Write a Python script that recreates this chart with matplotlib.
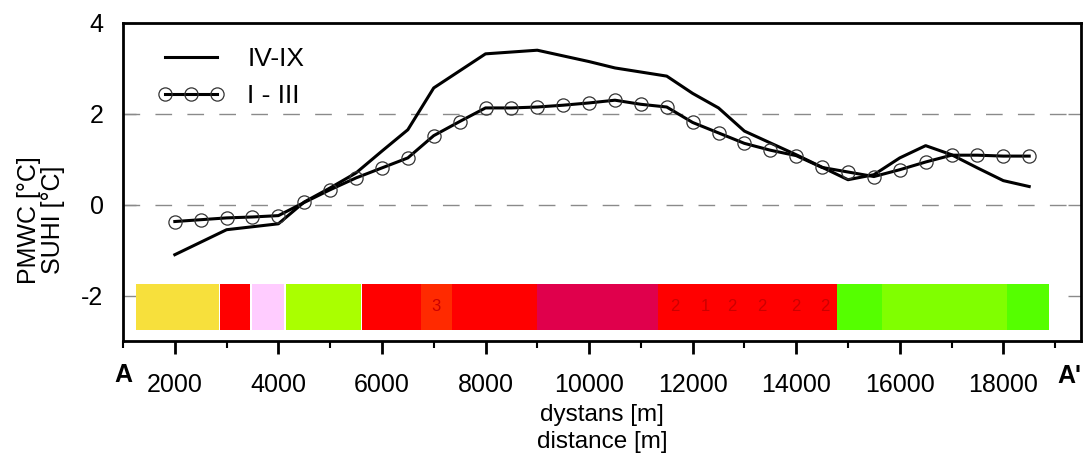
import matplotlib.pyplot as plt
import numpy as np

plt.rcParams['font.family'] = ['Liberation Sans', 'DejaVu Sans']
plt.rcParams['axes.unicode_minus'] = False

# IV-IX profile (solid line)
dist_summer = [2000, 3000, 4000, 4500, 5000, 5500, 6000, 6500, 7000, 8000, 9000, 10000,
               10500, 11500, 12000, 12500, 13000, 14000, 15000, 15500, 16000, 16500,
               17000, 17500, 18000, 18500]
suhi_summer = [-1.10, -0.55, -0.42, 0.06, 0.37, 0.70, 1.18, 1.65, 2.57, 3.32, 3.40, 3.15,
               3.01, 2.83, 2.45, 2.13, 1.62, 1.10, 0.55, 0.66, 1.03, 1.30,
               1.10, 0.81, 0.53, 0.40]

# I-III profile (line with circles, every 500 m)
dist_winter = list(range(2000, 18501, 500))
suhi_winter = [-0.37, -0.33, -0.29, -0.27, -0.24, 0.05, 0.33, 0.59, 0.81, 1.03, 1.52, 1.83,
               2.13, 2.13, 2.15, 2.19, 2.24, 2.30, 2.21, 2.15, 1.81, 1.58, 1.35, 1.20,
               1.08, 0.82, 0.72, 0.62, 0.77, 0.94, 1.09, 1.09, 1.07, 1.07]

# land cover strip along the transect
seg_start = [1250, 2870, 3500, 4150, 5610, 6750, 7350, 9000, 11330, 13690, 14790, 15660, 18080]
seg_end = [2850, 3450, 4100, 5590, 6750, 7350, 9000, 11330, 13690, 14790, 15660, 18080, 18890]
seg_color = ['#f7e03c', '#ff0000', '#ffccff', '#aaff00', '#ff0000', '#ff2a00', '#ff0000',
             '#e0004c', '#ff0000', '#ff0000', '#55ff00', '#80ff00', '#55ff00']
strip_labels = ['3', '2', '1', '2', '2', '2', '2']
strip_label_x = [7050, 11660, 12240, 12760, 13340, 14000, 14560]

fig, ax = plt.subplots(figsize=(10.85, 4.59), dpi=100)
fig.subplots_adjust(left=0.1134, right=0.9963, bottom=0.257, top=0.950)

for y in [0, 2]:
    ax.axhline(y, color='#8a8a8a', linewidth=1, dashes=(12, 11), zorder=1)

widths = np.array(seg_end) - np.array(seg_start)
ax.bar(seg_start, 1.0, width=widths, bottom=-2.75, align='edge', color=seg_color,
       linewidth=0, zorder=2)
for xl, t in zip(strip_label_x, strip_labels):
    ax.text(xl, -2.25, t, color='#cc0000', fontsize=12, ha='center', va='center', zorder=3)

ax.plot(dist_summer, suhi_summer, color='black', linewidth=2.2, label='IV-IX', zorder=4)
ax.plot(dist_winter, suhi_winter, color='black', linewidth=2.2, marker='o', markersize=9.5,
        markerfacecolor='none', markeredgecolor='#333333', markeredgewidth=0.9,
        label='I - III', zorder=5)

ax.set_xlim(1000, 19500)
ax.set_ylim(-3, 4)
ax.set_xticks(range(2000, 18001, 2000))
ax.set_xticks(range(1000, 19001, 1000), minor=True)
ax.set_yticks([-2, 0, 2, 4])
ax.tick_params(axis='x', direction='out', length=9, width=2, labelsize=18, pad=14)
ax.tick_params(axis='x', which='minor', direction='out', length=5, width=1.5)
ax.tick_params(axis='y', direction='in', length=9.5, width=1, color='#8a8a8a',
               right=True, labelsize=18, pad=14)
for s in ax.spines.values():
    s.set_linewidth(2)

ax.set_ylabel('PMWC [°C]\nSUHI [°C]', fontsize=18, labelpad=12, linespacing=1.0, y=0.38)
ax.set_xlabel('dystans [m]\ndistance [m]', fontsize=17.5, labelpad=5, linespacing=1.3)

ax.text(0.0, -0.107, 'A', transform=ax.transAxes, fontsize=18, fontweight='bold',
        ha='center', va='center')
ax.text(0.9875, -0.11, "A'", transform=ax.transAxes, fontsize=18, fontweight='bold',
        ha='center', va='center')

ax.legend(loc='upper left', bbox_to_anchor=(0.036, 0.923), frameon=False, fontsize=19,
          handlelength=2.55, numpoints=3, labelspacing=0.48, borderpad=0, borderaxespad=0,
          handletextpad=0.85)

plt.savefig('out.png')
